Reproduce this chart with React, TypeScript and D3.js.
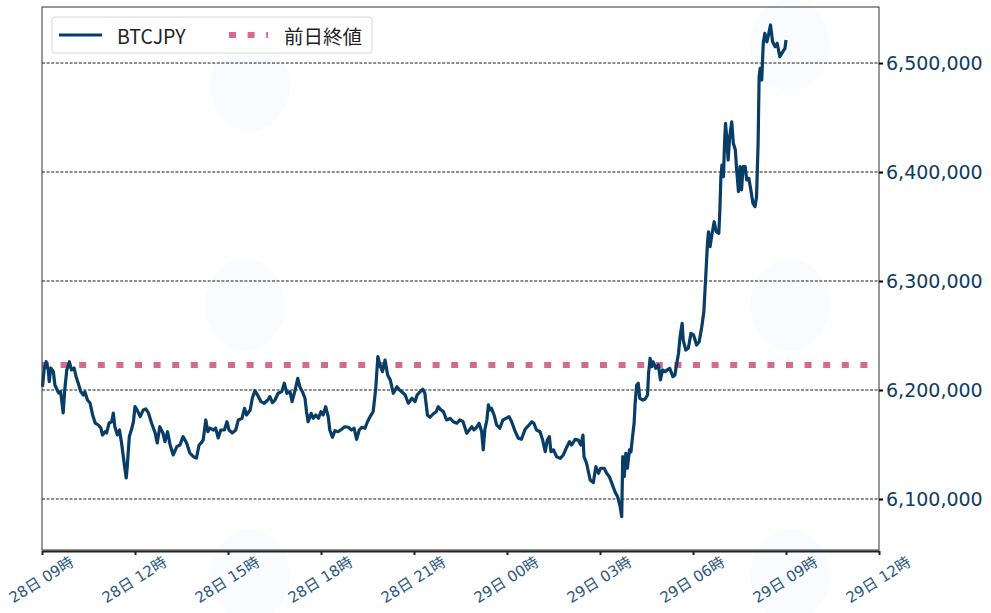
import * as d3 from 'd3';
import React, { useEffect, useRef } from 'react';

// minutes since 28日 09:00 and BTCJPY price
const minutes = [
  1, 4, 8, 12, 14, 17, 22, 25, 32, 36, 41, 44, 48, 53, 57, 62, 66, 70, 75, 80,
  83, 88, 93, 98, 103, 109, 114, 117, 122, 125, 130, 135, 138, 141, 146, 150, 154, 159, 163, 165,
  169, 174, 177, 180, 184, 190, 196, 201, 206, 212, 219, 223, 228, 234, 238, 243, 248, 254, 261, 267,
  273, 280, 286, 293, 299, 304, 308, 312, 317, 321, 325, 332, 336, 341, 346, 353, 358, 362, 368, 375,
  380, 387, 392, 396, 403, 407, 412, 419, 424, 430, 437, 441, 446, 451, 457, 464, 469, 474, 480, 484,
  490, 495, 499, 504, 509, 512, 515, 521, 525, 530, 535, 540, 544, 549, 554, 557, 562, 567, 573, 580,
  586, 593, 599, 604, 609, 614, 619, 625, 630, 635, 641, 646, 650, 654, 659, 664, 669, 674, 680, 687,
  692, 696, 703, 709, 716, 722, 726, 732, 737, 741, 746, 751, 757, 763, 767, 772, 777, 783, 790, 796,
  803, 809, 815, 822, 827, 832, 836, 841, 846, 851, 854, 857, 861, 864, 867, 870, 875, 880, 886, 892,
  898, 904, 909, 916, 922, 928, 935, 941, 948, 952, 957, 964, 969, 974, 978, 982, 985, 990, 996, 1003,
  1009, 1016, 1021, 1025, 1032, 1038, 1043, 1047, 1049, 1054, 1061, 1067, 1072, 1077, 1081, 1088, 1093, 1098, 1103, 1109,
  1114, 1119, 1122, 1124, 1127, 1130, 1133, 1137, 1140, 1143, 1146, 1148, 1151, 1154, 1157, 1163, 1167, 1172, 1174, 1177,
  1180, 1183, 1188, 1193, 1197, 1201, 1206, 1210, 1215, 1221, 1225, 1228, 1232, 1235, 1239, 1241, 1246, 1251, 1256, 1261,
  1267, 1272, 1277, 1281, 1285, 1288, 1290, 1293, 1297, 1301, 1305, 1310, 1312, 1314, 1316, 1319, 1321, 1323, 1325, 1328,
  1331, 1335, 1338, 1342, 1344, 1348, 1351, 1354, 1357, 1361, 1364, 1368, 1372, 1376, 1380, 1383, 1386, 1388, 1390, 1393,
  1396, 1399, 1403, 1406, 1410, 1414, 1419, 1423, 1428, 1434, 1438, 1440,
];

const prices = [
  6203000, 6218400, 6226000, 6218400, 6207600, 6220200, 6216800, 6204600, 6197300, 6198500,
  6178900, 6200000, 6218400, 6226000, 6218400, 6220200, 6212200, 6206400, 6198500, 6195400,
  6198500, 6190800, 6188100, 6177100, 6169700, 6167900, 6165100, 6158700, 6161700, 6160600,
  6169700, 6170900, 6178900, 6166300, 6158700, 6163300, 6151400, 6133000, 6119300, 6129600,
  6157200, 6165100, 6170900, 6184700, 6181700, 6175500, 6181700, 6182600, 6178900, 6169700,
  6160600, 6151400, 6166300, 6160600, 6152600, 6161700, 6149500, 6140400, 6148000, 6149500,
  6157200, 6151400, 6142200, 6138800, 6137600, 6149500, 6151400, 6154100, 6172500, 6161700,
  6165100, 6163300, 6165100, 6156000, 6163300, 6163300, 6170900, 6163300, 6160600, 6163300,
  6172500, 6174000, 6183200, 6177100, 6181700, 6192400, 6199400, 6193900, 6189300, 6187800,
  6190800, 6193900, 6188400, 6190800, 6197000, 6198500, 6206200, 6197000, 6198500, 6189300,
  6200000, 6210700, 6203000, 6198500, 6192400, 6180100, 6170900, 6178600, 6174000, 6177100,
  6174000, 6180100, 6177100, 6184700, 6175500, 6163300, 6156600, 6162700, 6161700, 6164000,
  6166300, 6165800, 6163300, 6164900, 6154800, 6163300, 6165800, 6164900, 6170900, 6175500,
  6180100, 6201600, 6230600, 6223000, 6216800, 6227500, 6213800, 6209200, 6197000, 6203000,
  6200000, 6198500, 6195400, 6187800, 6192400, 6189300, 6195400, 6198500, 6200700, 6197000,
  6177100, 6175000, 6178000, 6180100, 6184700, 6181700, 6180100, 6172500, 6174000, 6170900,
  6169500, 6172500, 6170900, 6160300, 6163300, 6166300, 6163300, 6165800, 6169500, 6161700,
  6145000, 6163300, 6172500, 6186300, 6181700, 6183200, 6177100, 6167900, 6164900, 6172500,
  6174000, 6175500, 6170900, 6161700, 6155700, 6154800, 6164000, 6167000, 6170900, 6169500,
  6163300, 6161700, 6154100, 6143400, 6154100, 6157200, 6143400, 6145000, 6138800, 6137300,
  6140400, 6148000, 6152600, 6149500, 6154800, 6154100, 6149500, 6158700, 6138800, 6132800,
  6117400, 6115000, 6129600, 6123600, 6128200, 6128200, 6123600, 6120500, 6114400, 6106700,
  6102100, 6093000, 6083800, 6138800, 6120500, 6141900, 6128200, 6145000, 6143400, 6157200,
  6169500, 6187800, 6204600, 6206200, 6192400, 6190800, 6191500, 6195400, 6215300, 6229100,
  6221400, 6225900, 6219900, 6223000, 6209200, 6218400, 6216800, 6218400, 6219900, 6212200,
  6213800, 6223000, 6233700, 6248900, 6261200, 6245900, 6236700, 6238300, 6252000, 6250500,
  6241300, 6244300, 6258100, 6271800, 6307100, 6334600, 6345200, 6331500, 6343800, 6354400,
  6345200, 6343800, 6365100, 6395700, 6406400, 6395700, 6426300, 6444700, 6432400, 6411000,
  6432400, 6446100, 6426300, 6420200, 6404900, 6381900, 6404900, 6383500, 6404900, 6404900,
  6392700, 6394200, 6383500, 6371300, 6368200, 6377300, 6426300, 6487400, 6495100, 6484400,
  6518100, 6527200, 6519500, 6525700, 6534900, 6519500, 6515000, 6518100, 6505800, 6510400,
  6513500, 6521100,
];

const previousClose = 6223000;
const yTicks = [6100000, 6200000, 6300000, 6400000, 6500000];
const seriesName = 'BTCJPY';
const closeName = '前日終値';

const startTime = new Date(2021, 9, 28, 9, 0);
const endTime = new Date(2021, 9, 29, 12, 0);

const WIDTH = 991;
const HEIGHT = 613;
const FONT = '"Noto Sans CJK JP", "Noto Sans", sans-serif';
const NUM_FONT = '"DejaVu Sans", "Noto Sans CJK JP", sans-serif';

const PriceChart: React.FC = () => {
  const ref = useRef<SVGSVGElement | null>(null);

  useEffect(() => {
    const svg = d3.select(ref.current);
    svg.selectAll('*').remove();

    const left = 42;
    const right = 879;
    const top = 7;
    const bottom = 550;

    const x = d3.scaleTime().domain([startTime, endTime]).range([left, right]);
    const y = d3.scaleLinear().domain([6053200, 6551400]).range([bottom, top]);

    // faint watermark blobs
    const marks = [
      [250, 85], [245, 305], [250, 575], [790, 45], [790, 305], [790, 575],
    ];
    svg
      .append('g')
      .selectAll('ellipse')
      .data(marks)
      .enter()
      .append('ellipse')
      .attr('cx', d => d[0])
      .attr('cy', d => d[1])
      .attr('rx', 40)
      .attr('ry', 46)
      .attr('fill', '#f9fbfe');

    // grid lines
    svg
      .append('g')
      .selectAll('line')
      .data(yTicks)
      .enter()
      .append('line')
      .attr('x1', left)
      .attr('x2', right)
      .attr('y1', d => y(d))
      .attr('y2', d => y(d))
      .attr('stroke', '#000')
      .attr('stroke-width', 0.9)
      .attr('stroke-dasharray', '3,1.6');

    // previous close
    svg
      .append('line')
      .attr('x1', left)
      .attr('x2', right)
      .attr('y1', y(previousClose))
      .attr('y2', y(previousClose))
      .attr('stroke', '#d6698d')
      .attr('stroke-width', 6)
      .attr('stroke-dasharray', '7,11.6');

    // price line
    const points = minutes.map((m, i) => ({ t: d3.timeMinute.offset(startTime, m), v: prices[i] }));
    const line = d3
      .line<{ t: Date; v: number }>()
      .x(d => x(d.t))
      .y(d => y(d.v));

    svg
      .append('path')
      .datum(points)
      .attr('d', line)
      .attr('fill', 'none')
      .attr('stroke', '#073d66')
      .attr('stroke-width', 3.2)
      .attr('stroke-linejoin', 'round');

    // frame
    svg
      .append('rect')
      .attr('x', left)
      .attr('y', top)
      .attr('width', right - left)
      .attr('height', bottom - top)
      .attr('fill', 'none')
      .attr('stroke', '#333')
      .attr('stroke-width', 1);

    // right y axis
    const yAxis = svg
      .append('g')
      .attr('transform', `translate(${right},0)`)
      .call(
        d3
          .axisRight(y)
          .tickValues(yTicks)
          .tickSize(4)
          .tickFormat(d => d3.format(',')(d as number)),
      );
    yAxis.select('.domain').remove();
    yAxis.selectAll('.tick line').attr('stroke', '#000').attr('stroke-width', 2);
    yAxis
      .selectAll('.tick text')
      .attr('x', 7)
      .attr('fill', '#0e3d62')
      .attr('font-family', NUM_FONT)
      .attr('font-size', 19);

    // bottom x axis
    const xTicks = d3.timeHour.every(3)!.range(startTime, d3.timeMinute.offset(endTime, 1));
    const xAxis = svg
      .append('g')
      .attr('transform', `translate(0,${bottom + 1})`)
      .call(
        d3
          .axisBottom(x)
          .tickValues(xTicks)
          .tickSize(4)
          .tickSizeOuter(0)
          .tickFormat(d => d3.timeFormat('%d日 %H時')(d as Date)),
      );
    xAxis.select('.domain').attr('stroke', '#222').attr('stroke-width', 2);
    xAxis.selectAll('.tick line').attr('stroke', '#222').attr('stroke-width', 2);
    xAxis
      .selectAll('.tick text')
      .attr('fill', '#2a5782')
      .attr('font-family', NUM_FONT)
      .attr('font-size', 15)
      .attr('text-anchor', 'middle')
      .attr('dy', null)
      .attr('y', 0)
      .attr('dominant-baseline', 'central')
      .attr('transform', 'translate(-1,29) rotate(-32)');

    // legend
    const legend = svg.append('g');
    legend
      .append('rect')
      .attr('x', 52)
      .attr('y', 17)
      .attr('width', 320)
      .attr('height', 36)
      .attr('rx', 3)
      .attr('fill', '#fff')
      .attr('stroke', '#d9d9d9');
    legend
      .append('line')
      .attr('x1', 59)
      .attr('x2', 102)
      .attr('y1', 35)
      .attr('y2', 35)
      .attr('stroke', '#073d66')
      .attr('stroke-width', 3);
    legend
      .append('text')
      .attr('x', 117)
      .attr('y', 35)
      .attr('dominant-baseline', 'central')
      .attr('font-family', FONT)
      .attr('font-size', 19.5)
      .attr('fill', '#222')
      .text(seriesName);
    legend
      .append('line')
      .attr('x1', 229)
      .attr('x2', 268)
      .attr('y1', 35)
      .attr('y2', 35)
      .attr('stroke', '#d6698d')
      .attr('stroke-width', 6)
      .attr('stroke-dasharray', '7,11.6');
    legend
      .append('text')
      .attr('x', 284)
      .attr('y', 35)
      .attr('dominant-baseline', 'central')
      .attr('font-family', FONT)
      .attr('font-size', 19.5)
      .attr('fill', '#222')
      .text(closeName);
  }, []);

  return <svg ref={ref} width={WIDTH} height={HEIGHT} style={{ display: 'block' }} />;
};

export default function App() {
  return (
    <div style={{ position: 'absolute', left: 0, top: 0, background: '#fff' }}>
      <PriceChart />
    </div>
  );
}
